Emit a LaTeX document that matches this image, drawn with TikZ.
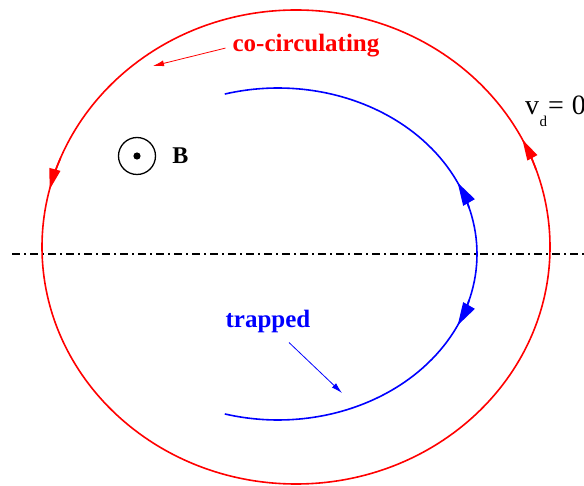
\documentclass[tikz,border=0pt]{standalone}
\usepackage{fontspec}
\setmainfont{Liberation Serif}
\usetikzlibrary{arrows.meta}
\usetikzlibrary{positioning}

\begin{document}
\begin{tikzpicture}[x=1pt,y=1pt,
    lbl/.style={font=\fontsize{25}{30}\selectfont\bfseries, inner sep=0pt},
    orbit/.style={line width=1.6pt},
    lblarrow/.style={line width=0.8pt, -{Latex[length=11pt,width=6pt]}},
    redtip/.style={orbit, red, -{Triangle[length=21pt,width=11pt]}},
    bluetip/.style={orbit, blue, -{Triangle[length=23pt,width=13pt]}},
  ]
\useasboundingbox (0,0) rectangle (584,485);

%---------------------------------------
% Orbit parameters
%---------------------------------------
\def\Rcx{296} \def\Rcy{238} \def\Rrx{254} \def\Rry{237}   % co-circulating
\def\Bcx{278} \def\Bcy{231} \def\Brx{199} \def\Bry{166}   % trapped
\def\Bend{105.5}

% Midplane
\coordinate (mida) at (12,231);
\coordinate (midb) at (584,231);
\draw[line width=1.3pt, dash pattern=on 8pt off 4pt on 2pt off 4pt] (mida) -- (midb);

%====================================================
% Co-circulating orbit
%====================================================
\draw[orbit, red] (\Rcx,\Rcy) ellipse [x radius=\Rrx, y radius=\Rry];

% direction of motion
\draw[redtip] ({\Rcx+\Rrx*cos(19)},{\Rcy+\Rry*sin(19)})
  arc [start angle=19, end angle=27, x radius=\Rrx, y radius=\Rry];
\draw[redtip] ({\Rcx+\Rrx*cos(158)},{\Rcy+\Rry*sin(158)})
  arc [start angle=158, end angle=166, x radius=\Rrx, y radius=\Rry];

\node[lbl, red, anchor=base] (cocirc) at (306,433) {co-circulating};
\coordinate (cotip) at (153,419);
\draw[lblarrow, red] ([xshift=-7pt,yshift=-2pt]cocirc.west) -- (cotip);

%====================================================
% Trapped orbit (upper and lower halves)
%====================================================
\draw[orbit, blue] ({\Bcx+\Brx},\Bcy)
  arc [start angle=0, end angle=\Bend, x radius=\Brx, y radius=\Bry];
\draw[orbit, blue] ({\Bcx+\Brx},\Bcy)
  arc [start angle=0, end angle=-\Bend, x radius=\Brx, y radius=\Bry];

% bounce directions
\draw[bluetip] ({\Bcx+\Brx*cos(16)},{\Bcy+\Bry*sin(16)})
  arc [start angle=16, end angle=25.5, x radius=\Brx, y radius=\Bry];
\draw[bluetip] ({\Bcx+\Brx*cos(-16)},{\Bcy+\Bry*sin(-16)})
  arc [start angle=-16, end angle=-25.5, x radius=\Brx, y radius=\Bry];

\node[lbl, blue, anchor=base] (trapped) at (268,157) {trapped};
\coordinate (traptip) at (342,92);
\draw[lblarrow, blue] ([xshift=21pt,yshift=-9pt]trapped.south) -- (traptip);

%====================================================
% Magnetic field and drift velocity
%====================================================
\node[draw, circle, line width=1.3pt, minimum size=37pt, inner sep=0pt] (bsym) at (137,329) {};
\fill (bsym.center) circle (3.6pt);
\node[lbl, font=\fontsize{24}{28}\selectfont\bfseries, right=16pt of bsym] (bname) {B};

\node[anchor=base west, inner sep=0pt, font=\fontsize{28}{30}\selectfont] (vdrift) at (525,370)
  {v\kern0.5pt\raisebox{-12pt}{\fontsize{15}{15}\selectfont d}\kern1pt=\kern8pt0};

\end{tikzpicture}
\end{document}
